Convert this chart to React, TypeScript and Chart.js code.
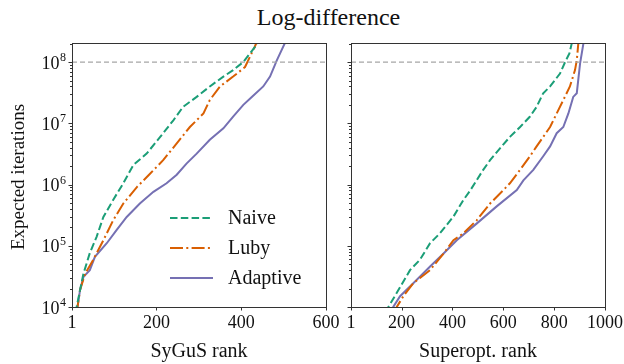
import React, { useEffect, useRef } from "react";
import { Chart, registerables } from "chart.js";

Chart.register(...registerables);

const FONT = "'Liberation Serif', 'DejaVu Serif', serif";

const TITLE = "Log-difference";
const Y_LABEL = "Expected iterations";
const SERIES_NAMES = ["Naive", "Luby", "Adaptive"];
const SERIES_COLORS = ["#1b9e77", "#d95f02", "#7570b3"];
const THRESHOLD = 1e8;
const Y_MIN = 1e4;
const Y_MAX = 2.05e8;

// SyGuS panel
const sygusXLabel = "SyGuS rank";
const sygusXTicks = [1, 200, 400, 600];
const sygusNaiveRank = [10, 12, 20, 28, 43, 59, 75, 98, 122, 146, 177, 209, 240, 263, 295, 326, 358, 381, 405, 436, 445];
const sygusNaiveVal = [8e3, 1.0e4, 1.9e4, 3.5e4, 7.6e4, 1.4e5, 2.95e5, 5.6e5, 1.05e6, 2.1e6, 3.2e6, 6.0e6, 1.12e7, 1.86e7, 2.7e7, 4.0e7, 5.8e7, 7.4e7, 1.0e8, 1.9e8, 2.6e8];
const sygusLubyRank = [12, 14, 20, 32, 51, 75, 98, 122, 154, 185, 216, 248, 279, 311, 326, 350, 381, 409, 432, 442];
const sygusLubyVal = [8e3, 1.0e4, 1.9e4, 3.5e4, 5.9e4, 1.23e5, 2.6e5, 4.9e5, 9.1e5, 1.5e6, 2.5e6, 4.7e6, 8.7e6, 1.45e7, 2.4e7, 4.0e7, 5.8e7, 8.3e7, 1.78e8, 2.6e8];
const sygusAdaptiveRank = [13, 14, 20, 28, 43, 55, 83, 106, 130, 161, 193, 224, 248, 271, 295, 326, 358, 381, 405, 425, 452, 468, 484, 503, 508];
const sygusAdaptiveVal = [8e3, 1.0e4, 1.9e4, 3.1e4, 4.0e4, 6.6e4, 1.1e5, 1.8e5, 2.95e5, 4.9e5, 7.6e5, 1.05e6, 1.45e6, 2.2e6, 3.2e6, 5.4e6, 8.3e6, 1.29e7, 2.0e7, 2.7e7, 4.0e7, 5.8e7, 1.07e8, 2.04e8, 2.6e8];

// Superopt panel
const superXLabel = "Superopt. rank";
const superXTicks = [1, 200, 400, 600, 800, 1000];
const superNaiveRank = [140, 148, 194, 233, 272, 312, 351, 404, 443, 469, 495, 521, 548, 587, 626, 666, 705, 731, 757, 784, 823, 843, 860, 869, 872];
const superNaiveVal = [8e3, 1.0e4, 2.1e4, 4.0e4, 5.9e4, 1.1e5, 1.6e5, 3.0e5, 5.6e5, 7.9e5, 1.17e6, 1.74e6, 2.5e6, 3.9e6, 6.0e6, 8.7e6, 1.29e7, 1.86e7, 3.1e7, 4.0e7, 6.5e7, 1.0e8, 1.38e8, 2.0e8, 2.6e8];
const superLubyRank = [175, 181, 207, 246, 312, 364, 404, 443, 495, 548, 600, 626, 666, 705, 731, 757, 784, 810, 836, 862, 882, 889, 895, 897];
const superLubyVal = [8e3, 1.0e4, 1.5e4, 2.45e4, 4.0e4, 7.4e4, 1.23e5, 1.6e5, 2.6e5, 4.9e5, 8.1e5, 1.05e6, 1.74e6, 2.9e6, 4.2e6, 6.0e6, 8.7e6, 1.45e7, 2.4e7, 4.0e7, 7.4e7, 1.07e8, 2.0e8, 2.6e8];
const superAdaptiveRank = [160, 167, 194, 246, 312, 364, 417, 495, 574, 653, 679, 718, 757, 784, 810, 836, 856, 875, 889, 902, 915, 918];
const superAdaptiveVal = [8e3, 1.0e4, 1.5e4, 2.45e4, 4.6e4, 7.4e4, 1.23e5, 2.3e5, 4.4e5, 8.1e5, 1.17e6, 1.74e6, 2.9e6, 4.2e6, 6.9e6, 8.7e6, 1.45e7, 2.7e7, 3.1e7, 9.5e7, 2.0e8, 2.6e8];

const DASHES: number[][] = [[7.5, 3.3], [13, 3.3, 2, 3.3], []];

const W = 624;
const H = 364;

type Panel = {
  xMin: number;
  xMax: number;
  xTicks: number[];
  xLabel: string;
  ranks: number[][];
  vals: number[][];
  left: number;
  right: number;
  showYLabels: boolean;
  showLegend: boolean;
};

const PLOT_TOP = 43;
const PLOT_BOTTOM = 307;

const zip = (xs: number[], ys: number[]) => xs.map((x, i) => ({ x, y: ys[i] }));

function makeChart(canvas: HTMLCanvasElement, p: Panel) {
  const datasets: any[] = p.ranks.map((r, i) => ({
    label: SERIES_NAMES[i],
    data: zip(r, p.vals[i]),
    borderColor: SERIES_COLORS[i],
    borderWidth: 2,
    borderDash: DASHES[i],
    pointRadius: 0,
    fill: false,
    tension: 0,
  }));
  datasets.unshift({
    label: "threshold",
    data: [
      { x: p.xMin, y: THRESHOLD },
      { x: p.xMax, y: THRESHOLD },
    ],
    borderColor: "#a6a6a6",
    borderWidth: 1.2,
    borderDash: [5, 3],
    pointRadius: 0,
  });

  const decorate = {
    id: "decorate",
    afterDraw(chart: any) {
      const ctx = chart.ctx as CanvasRenderingContext2D;
      const { left, right, top, bottom } = chart.chartArea;
      const xs = chart.scales.x;
      const ys = chart.scales.y;
      ctx.save();
      // frame
      ctx.strokeStyle = "#333";
      ctx.lineWidth = 1;
      ctx.setLineDash([]);
      ctx.strokeRect(Math.round(left) + 0.5, Math.round(top) + 0.5, Math.round(right - left), Math.round(bottom - top));
      // y ticks
      ctx.beginPath();
      for (let e = 3; e <= 9; e++) {
        for (let m = 1; m <= 9; m++) {
          const v = m * Math.pow(10, e);
          if (v < Y_MIN || v > Y_MAX) continue;
          const y = Math.round(ys.getPixelForValue(v)) + 0.5;
          const len = m === 1 ? 3.5 : 2;
          ctx.moveTo(left - len, y);
          ctx.lineTo(left, y);
        }
      }
      // x ticks
      p.xTicks.forEach((v) => {
        const x = Math.round(xs.getPixelForValue(v)) + 0.5;
        ctx.moveTo(x, bottom);
        ctx.lineTo(x, bottom + 3.5);
      });
      ctx.stroke();
      ctx.fillStyle = "#111";
      // x tick labels
      ctx.font = `18px ${FONT}`;
      ctx.textAlign = "center";
      ctx.textBaseline = "top";
      p.xTicks.forEach((v) => {
        const x = xs.getPixelForValue(v);
        ctx.fillText(String(v), x, bottom + 7);
      });
      // x title
      ctx.font = `20px ${FONT}`;
      ctx.textBaseline = "alphabetic";
      ctx.fillText(p.xLabel, (left + right) / 2, 357);
      if (p.showYLabels) {
        for (let e = 4; e <= 8; e++) {
          const v = Math.pow(10, e);
          const y = ys.getPixelForValue(v);
          ctx.font = `12px ${FONT}`;
          ctx.textAlign = "right";
          ctx.textBaseline = "alphabetic";
          const expW = ctx.measureText(String(e)).width;
          ctx.fillText(String(e), left - 6, y - 1);
          ctx.font = `18px ${FONT}`;
          ctx.fillText("10", left - 6 - expW - 0.5, y + 6.5);
        }
        ctx.save();
        ctx.translate(24, (top + bottom) / 2 + 2);
        ctx.rotate(-Math.PI / 2);
        ctx.font = `19px ${FONT}`;
        ctx.textAlign = "center";
        ctx.textBaseline = "alphabetic";
        ctx.fillText(Y_LABEL, 0, 0);
        ctx.restore();
      }
      if (p.showLegend) {
        const lx = 170;
        const rows = [218, 248, 278];
        rows.forEach((ry, i) => {
          ctx.strokeStyle = SERIES_COLORS[i];
          ctx.lineWidth = 2;
          ctx.setLineDash(DASHES[i]);
          ctx.beginPath();
          ctx.moveTo(lx, ry);
          ctx.lineTo(lx + 43, ry);
          ctx.stroke();
          ctx.setLineDash([]);
          ctx.fillStyle = "#111";
          ctx.font = `20px ${FONT}`;
          ctx.textAlign = "left";
          ctx.textBaseline = "middle";
          ctx.fillText(SERIES_NAMES[i], lx + 58, ry + 1);
        });
      }
      ctx.restore();
    },
  };

  return new Chart(canvas, {
    type: "line",
    data: { datasets },
    options: {
      animation: false,
      responsive: false,
      maintainAspectRatio: false,
      events: [],
      layout: { padding: { left: 0, top: PLOT_TOP, right: W - p.right, bottom: 0 } },
      plugins: { legend: { display: false }, tooltip: { enabled: false }, title: { display: false } },
      scales: {
        x: {
          type: "linear",
          min: p.xMin,
          max: p.xMax,
          grid: { display: false },
          border: { display: false },
          ticks: { display: false },
          afterFit: (s: any) => {
            s.height = H - PLOT_BOTTOM;
          },
        },
        y: {
          type: "logarithmic",
          min: Y_MIN,
          max: Y_MAX,
          grid: { display: false },
          border: { display: false },
          ticks: { display: false },
          afterFit: (s: any) => {
            s.width = p.left;
          },
        },
      },
    },
    plugins: [decorate],
  } as any);
}

export default function App() {
  const leftRef = useRef<HTMLCanvasElement>(null);
  const rightRef = useRef<HTMLCanvasElement>(null);

  useEffect(() => {
    const c1 = makeChart(leftRef.current!, {
      xMin: 1,
      xMax: 600,
      xTicks: sygusXTicks,
      xLabel: sygusXLabel,
      ranks: [sygusNaiveRank, sygusLubyRank, sygusAdaptiveRank],
      vals: [sygusNaiveVal, sygusLubyVal, sygusAdaptiveVal],
      left: 72,
      right: 326,
      showYLabels: true,
      showLegend: true,
    });
    const c2 = makeChart(rightRef.current!, {
      xMin: 1,
      xMax: 1000,
      xTicks: superXTicks,
      xLabel: superXLabel,
      ranks: [superNaiveRank, superLubyRank, superAdaptiveRank],
      vals: [superNaiveVal, superLubyVal, superAdaptiveVal],
      left: 351,
      right: 605,
      showYLabels: false,
      showLegend: false,
    });
    return () => {
      c1.destroy();
      c2.destroy();
    };
  }, []);

  const canvasStyle: React.CSSProperties = { position: "absolute", left: 0, top: 0, width: W, height: H };
  return (
    <div style={{ position: "fixed", left: 0, top: 0, width: W, height: H, background: "#fff", overflow: "hidden" }}>
      <div
        style={{
          position: "absolute",
          left: 0,
          top: 3,
          width: 657,
          textAlign: "center",
          fontFamily: FONT,
          fontSize: 24,
          color: "#111",
          lineHeight: "28px",
        }}
      >
        {TITLE}
      </div>
      <canvas ref={leftRef} width={W} height={H} style={canvasStyle} />
      <canvas ref={rightRef} width={W} height={H} style={canvasStyle} />
    </div>
  );
}
